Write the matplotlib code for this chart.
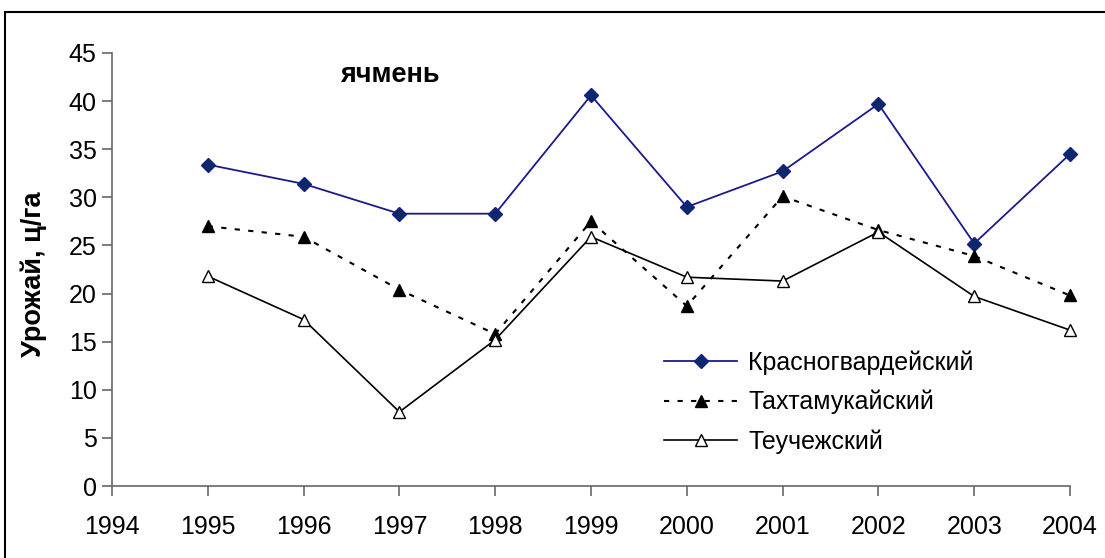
import matplotlib
matplotlib.use("Agg")
import matplotlib.pyplot as plt
from matplotlib.patches import Rectangle

plt.rcParams['font.family'] = ['Liberation Sans', 'DejaVu Sans']

# data
years = [1995, 1996, 1997, 1998, 1999, 2000, 2001, 2002, 2003, 2004]
krasnogv = [33.4, 31.4, 28.3, 28.3, 40.6, 29.0, 32.7, 39.7, 25.2, 34.5]
tahtam = [27.0, 25.9, 20.4, 15.8, 27.5, 18.7, 30.1, 26.6, 23.9, 19.8]
teuch = [21.8, 17.3, 7.7, 15.2, 25.9, 21.7, 21.3, 26.4, 19.7, 16.2]
xticks = list(range(1994, 2005))
yticks = list(range(0, 50, 5))

fig = plt.figure(figsize=(11.05, 5.58), dpi=100)

# outer frame of the chart area (cut off right and bottom)
fig.patches.append(Rectangle((5 / 1105, -0.05), 1.2, 1 - 12 / 558 + 0.05,
                             transform=fig.transFigure, fill=False,
                             edgecolor='black', linewidth=1.5))

ax = fig.add_axes([112 / 1105, 1 - 486 / 558, (1070 - 112) / 1105, (486 - 53) / 558])

ax.plot(years, krasnogv, color='#1a1a8c', lw=1.3, marker='D', markersize=7.5,
        markerfacecolor='#0a2a66', markeredgecolor='#1a1a8c', clip_on=False,
        label='Красногвардейский')
ax.plot(years, tahtam, color='black', lw=1.5, linestyle=(0, (2.5, 4)), marker='^',
        markersize=9, markerfacecolor='black', markeredgecolor='black', clip_on=False,
        label='Тахтамукайский')
ax.plot(years, teuch, color='black', lw=1.2, marker='^', markersize=9,
        markerfacecolor='white', markeredgecolor='black', clip_on=False,
        label='Теучежский')

ax.set_xlim(1994, 2004)
ax.set_ylim(0, 45)
ax.set_xticks(xticks)
ax.set_yticks(yticks)
ax.tick_params(labelsize=18, direction='out', length=7, color='#666666', width=1.2)
ax.tick_params(axis='x', pad=14)
ax.tick_params(axis='y', pad=4)
for s in ['top', 'right']:
    ax.spines[s].set_visible(False)
for s in ['left', 'bottom']:
    ax.spines[s].set_color('#666666')
    ax.spines[s].set_linewidth(1.2)

ax.set_ylabel('Урожай, ц/га', fontsize=19.5, fontweight='bold')
ax.yaxis.set_label_coords(-65 / 958, 0.49)
ax.text(1996.38, 42.0, 'ячмень', fontsize=19.5, fontweight='bold')

ax.legend(loc='upper left', bbox_to_anchor=(0.553, 0.365), frameon=False,
          fontsize=18, handlelength=2.9, handletextpad=0.45, labelspacing=0.6)

fig.savefig('out.png', dpi=100)
